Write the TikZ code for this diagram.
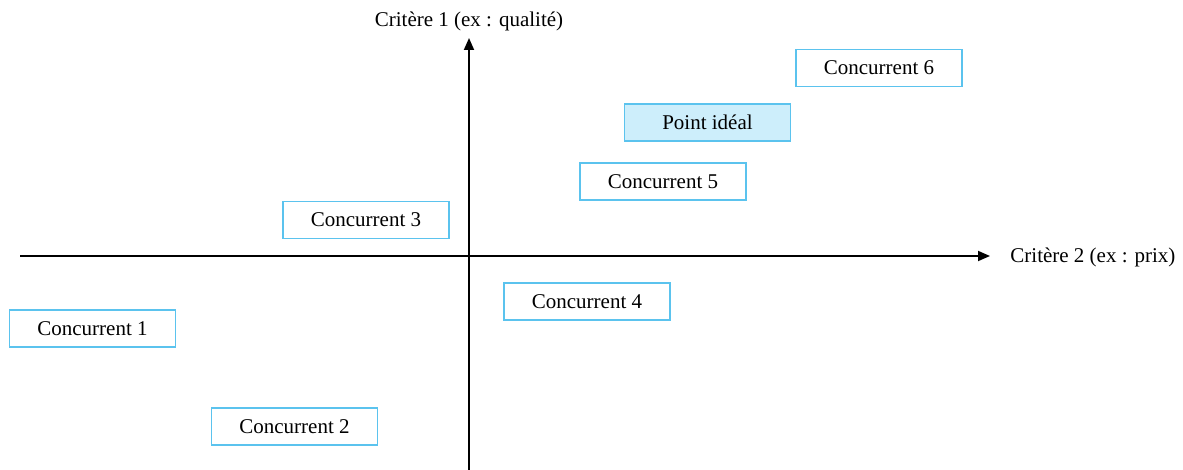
\documentclass[tikz,border=0pt]{standalone}
\usepackage{fontspec}
\setmainfont{Liberation Serif}
\usetikzlibrary{arrows.meta}
\definecolor{boxline}{HTML}{5BC3EE}
\definecolor{idealfill}{HTML}{CDEEFB}
\begin{document}
\begin{tikzpicture}[x=0.5pt,y=-0.5pt,
  comp/.style={draw=boxline,line width=0.7pt,minimum width=83pt,minimum height=18.5pt,inner sep=0pt,text depth=0pt,font=\fontsize{10.5}{12}\selectfont},
  ideal/.style={comp,fill=idealfill},
  axis/.style={line width=0.9pt,-{Triangle[length=6pt,width=5pt]}},
  lab/.style={font=\fontsize{10.5}{12}\selectfont,inner sep=0pt}]
\useasboundingbox (0,0) rectangle (1183,470);
\coordinate (xs) at (20,256);
\coordinate (xe) at (990,256);
\coordinate (ys) at (469,470);
\coordinate (ye) at (469,38);
\draw[axis] (xs) -- (xe);
\draw[axis] (ys) -- (ye);
\node[lab,anchor=west] (xl) at (1010,257) {Critère 2 (ex : prix)};
\node[lab] (yl) at (469,21) {Critère 1 (ex : qualité)};
\node[comp] (c6) at (879,68) {Concurrent 6};
\node[ideal] (pi) at (707.5,122.5) {Point idéal};
\node[comp] (c5) at (663,181.5) {Concurrent 5};
\node[comp] (c3) at (366,220) {Concurrent 3};
\node[comp] (c4) at (587,301.5) {Concurrent 4};
\node[comp] (c1) at (92.5,328.5) {Concurrent 1};
\node[comp] (c2) at (294.5,426.5) {Concurrent 2};
\end{tikzpicture}
\end{document}
